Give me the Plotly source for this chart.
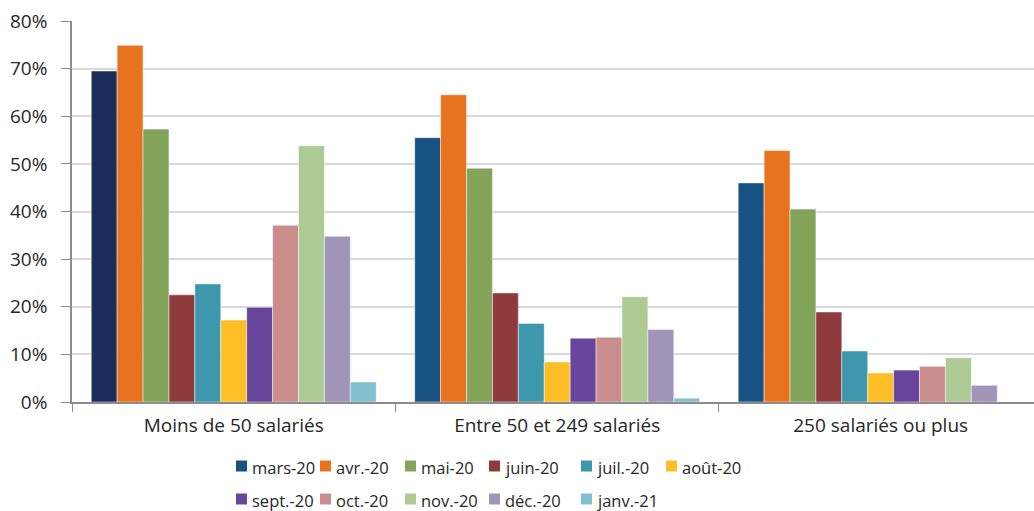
import plotly.graph_objects as go

categories = ["Moins de 50 salariés", "Entre 50 et 249 salariés", "250 salariés ou plus"]
months = ["mars-20", "avr.-20", "mai-20", "juin-20", "juil.-20", "août-20",
          "sept.-20", "oct.-20", "nov.-20", "déc.-20", "janv.-21"]

mars_20 = [69.5, 55.5, 46.0]
avr_20 = [74.9, 64.5, 52.8]
mai_20 = [57.3, 49.1, 40.5]
juin_20 = [22.5, 22.9, 18.9]
juil_20 = [24.8, 16.5, 10.7]
aout_20 = [17.2, 8.4, 6.1]
sept_20 = [19.9, 13.4, 6.7]
oct_20 = [37.1, 13.6, 7.5]
nov_20 = [53.8, 22.1, 9.3]
dec_20 = [34.8, 15.2, 3.5]
janv_21 = [4.2, 0.8, 0.0]

series = [mars_20, avr_20, mai_20, juin_20, juil_20, aout_20,
          sept_20, oct_20, nov_20, dec_20, janv_21]

colors = [
    ["#1C2D59", "#175282", "#175282"],
    "#E8731F", "#82A55A", "#8F3A3D", "#3D97AD", "#FDBE26",
    "#67459A", "#C98D8C", "#ADCA94", "#A094B7", "#82BFD0",
]
legend_colors = ["#175282"] + colors[1:]

FONT = "Open Sans"
TXT = "#262626"
AXIS = "#8C8C8C"

W, H = 1034, 511
ML, MR, MT, MB = 72, 0, 21, 109

fig = go.Figure()
for i, (name, vals) in enumerate(zip(months, series)):
    fig.add_trace(go.Bar(
        name=name,
        x=categories,
        y=[v / 100 for v in vals],
        marker=dict(color=colors[i], line=dict(color="rgba(255,255,255,0.6)", width=0.8)),
        showlegend=False,
        hovertemplate="%{x}<br>" + name + " : %{y:.1%}<extra></extra>",
    ))

# Two-row legend under the chart: coloured swatch + label per month
plot_w = W - ML - MR
plot_h = H - MT - MB
col_left_px = [236, 320, 405, 489, 581, 666]
row_mid_px = [466, 499]
swatch = 11


def px_x(px):
    return (px - ML) / plot_w


def px_y(py):
    return (H - MB - py) / plot_h


shapes = []
annotations = []
for i, (name, col) in enumerate(zip(months, legend_colors)):
    r, c = divmod(i, 6)
    x0 = col_left_px[c]
    ym = row_mid_px[r]
    shapes.append(dict(
        type="rect", xref="paper", yref="paper",
        x0=px_x(x0), x1=px_x(x0 + swatch),
        y0=px_y(ym + swatch / 2), y1=px_y(ym - swatch / 2),
        fillcolor=col, line=dict(width=0),
    ))
    annotations.append(dict(
        xref="paper", yref="paper",
        x=px_x(x0 + swatch + 4), y=px_y(ym + 1),
        xanchor="left", yanchor="middle",
        text=name, showarrow=False, borderpad=0,
        font=dict(family=FONT, size=16.5, color=TXT),
    ))

fig.update_layout(
    width=W,
    height=H,
    margin=dict(l=ML, r=MR, t=MT, b=MB),
    paper_bgcolor="white",
    plot_bgcolor="white",
    barmode="group",
    bargap=0.119,
    bargroupgap=0,
    showlegend=False,
    font=dict(family=FONT, size=19, color=TXT),
    xaxis=dict(
        range=[-0.5, 2.474],
        showline=True,
        linecolor=AXIS,
        linewidth=1.5,
        ticks="outside",
        tickson="boundaries",
        ticklen=8,
        tickcolor=AXIS,
        ticklabelstandoff=5,
        tickfont=dict(family=FONT, size=19, color=TXT),
        showgrid=False,
    ),
    yaxis=dict(
        range=[0, 0.8],
        dtick=0.1,
        tickformat=".0%",
        showline=True,
        linecolor=AXIS,
        linewidth=1.5,
        ticks="outside",
        ticklen=9,
        tickcolor=AXIS,
        ticklabelstandoff=10,
        gridcolor="#D9D9D9",
        gridwidth=1.5,
        zeroline=False,
        tickfont=dict(family=FONT, size=19, color=TXT),
    ),
    shapes=shapes,
    annotations=annotations,
)

fig.write_html("out.html")
